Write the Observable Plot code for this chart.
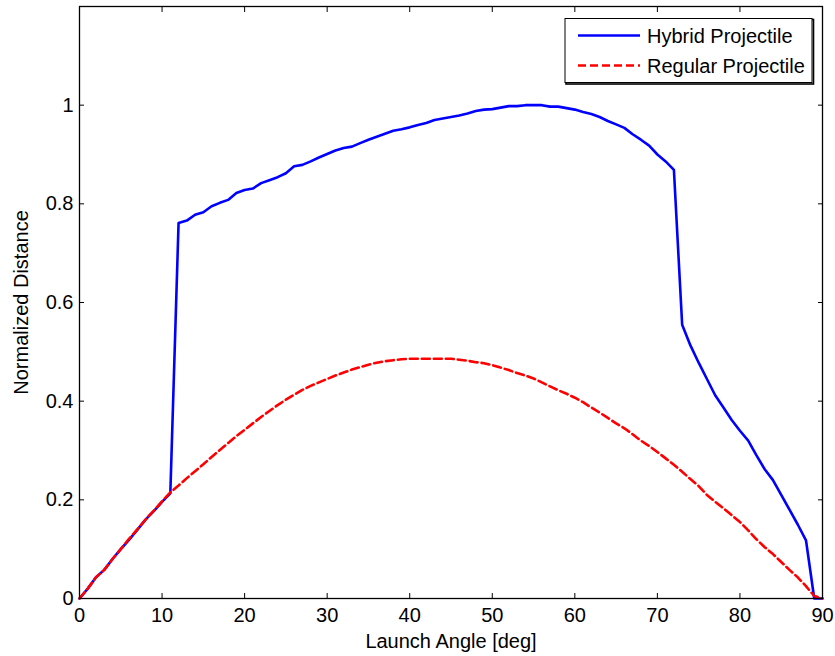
<!DOCTYPE html>
<html>
<head>
<meta charset="utf-8">
<script src="https://cdn.jsdelivr.net/npm/d3@7"></script>
<script src="https://cdn.jsdelivr.net/npm/@observablehq/plot@0.6"></script>
<style>
  html, body { margin: 0; padding: 0; background: #fff; }
  #chart { width: 835px; height: 656px; }
</style>
</head>
<body>
<div id="chart"></div>
<script>
const angles = [0,1,2,3,4,5,6,7,8,9,10,11,12,13,14,15,16,17,18,19,20,21,22,23,24,25,26,27,28,29,30,31,32,33,34,35,36,37,38,39,40,41,42,43,44,45,46,47,48,49,50,51,52,53,54,55,56,57,58,59,60,61,62,63,64,65,66,67,68,69,70,71,72,73,74,75,76,77,78,79,80,81,82,83,84,85,86,87,88,89,90];

const hybridValues = [0,0.02,0.043,0.058,0.08,0.1,0.119,0.139,0.16,0.177,0.196,0.213,0.761,0.766,0.778,0.783,0.795,0.802,0.808,0.822,0.828,0.831,0.842,0.848,0.854,0.862,0.876,0.879,0.886,0.894,0.901,0.908,0.913,0.916,0.923,0.93,0.936,0.942,0.948,0.951,0.955,0.96,0.964,0.97,0.973,0.976,0.979,0.983,0.988,0.991,0.992,0.995,0.998,0.998,1.0,1.0,1.0,0.997,0.997,0.994,0.991,0.986,0.982,0.976,0.968,0.961,0.954,0.941,0.93,0.918,0.9,0.886,0.869,0.555,0.513,0.478,0.445,0.412,0.387,0.362,0.34,0.32,0.29,0.262,0.24,0.21,0.18,0.15,0.118,0,0];

const regularValues = [0,0.02,0.043,0.058,0.08,0.1,0.121,0.14,0.16,0.178,0.197,0.215,0.229,0.244,0.258,0.272,0.287,0.301,0.315,0.329,0.342,0.355,0.368,0.38,0.392,0.403,0.413,0.423,0.431,0.438,0.445,0.452,0.458,0.464,0.469,0.474,0.478,0.481,0.483,0.485,0.486,0.486,0.486,0.486,0.486,0.486,0.484,0.482,0.479,0.477,0.473,0.468,0.463,0.457,0.452,0.446,0.438,0.43,0.422,0.415,0.407,0.398,0.387,0.377,0.366,0.355,0.345,0.333,0.32,0.309,0.297,0.284,0.271,0.257,0.242,0.228,0.21,0.196,0.183,0.169,0.155,0.138,0.12,0.104,0.09,0.074,0.058,0.043,0.025,0.005,0];

const xTicks = [0,10,20,30,40,50,60,70,80,90];
const yTicks = [0,0.2,0.4,0.6,0.8,1];
const seriesNames = ["Hybrid Projectile", "Regular Projectile"];
const seriesColors = ["#0000ff", "#ff0000"];

const hybrid = angles.map((a, i) => ({angle: a, value: hybridValues[i]}));
const regular = angles.map((a, i) => ({angle: a, value: regularValues[i]}));

const FONT = "'Liberation Sans', Arial, sans-serif";
const FS = 20;
const TICK = 5;
const DASH = "8,4";

const chart = Plot.plot({
  width: 835,
  height: 656,
  marginLeft: 79,
  marginRight: 13,
  marginTop: 6,
  marginBottom: 58,
  style: {fontFamily: FONT, fontSize: FS + "px", background: "white", color: "black", overflow: "visible"},
  x: {domain: [0, 90]},
  y: {domain: [0, 1.2]},
  marks: [
    Plot.line(hybrid, {x: "angle", y: "value", stroke: seriesColors[0], strokeWidth: 2.6, strokeLinejoin: "round"}),
    Plot.line(regular, {x: "angle", y: "value", stroke: seriesColors[1], strokeWidth: 2.6, strokeDasharray: DASH}),
    Plot.frame({stroke: "black", strokeWidth: 1.3}),
    // tick labels + axis titles
    Plot.axisX({ticks: xTicks, tickSize: 0, tickPadding: 9, label: "Launch Angle [deg]", labelAnchor: "center", labelArrow: "none", labelOffset: 49}),
    Plot.axisY({ticks: yTicks, tickSize: 0, tickPadding: 6, tickFormat: d => String(d), label: "Normalized Distance", labelAnchor: "center", labelArrow: "none", labelOffset: 66}),
    // inward tick marks on all four sides
    Plot.axisX({ticks: xTicks, anchor: "bottom", tickSize: TICK, dy: -TICK, text: null, label: null}),
    Plot.axisX({ticks: xTicks, anchor: "top", tickSize: TICK, dy: TICK, text: null, label: null}),
    Plot.axisY({ticks: yTicks, anchor: "left", tickSize: TICK, dx: TICK, text: null, label: null}),
    Plot.axisY({ticks: yTicks, anchor: "right", tickSize: TICK, dx: -TICK, text: null, label: null})
  ]
});

document.getElementById("chart").appendChild(chart);

// Legend inside the plot area (top-right), MATLAB style
const svg = d3.select(chart);
const lg = svg.append("g").attr("font-family", FONT).attr("font-size", FS + "px").attr("text-anchor", "start");
lg.append("rect").attr("x", 566).attr("y", 19.5).attr("width", 247.5).attr("height", 64.5)
  .attr("fill", "none").attr("stroke", "#000").attr("stroke-width", 1.6);
lg.append("rect").attr("x", 565).attr("y", 18.5).attr("width", 247).attr("height", 64)
  .attr("fill", "#fff").attr("stroke", "#000").attr("stroke-width", 1);
[0, 1].forEach(i => {
  const cy = 35.5 + i * 30;
  lg.append("line").attr("x1", 578).attr("x2", 640).attr("y1", cy).attr("y2", cy)
    .attr("stroke", seriesColors[i]).attr("stroke-width", 2.6)
    .attr("stroke-dasharray", i === 1 ? DASH : null);
  lg.append("text").attr("x", 647).attr("y", cy + 7).attr("fill", "#000").attr("text-anchor", "start").text(seriesNames[i]);
});
</script>
</body>
</html>
